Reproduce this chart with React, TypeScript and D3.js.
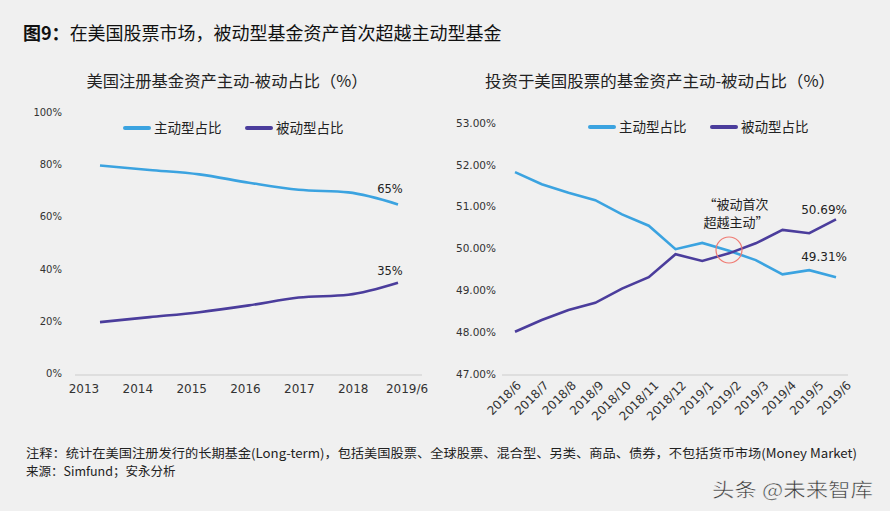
import React from "react";
import * as d3 from "d3";

// left chart: all registered funds
const leftYears = ["2013", "2014", "2015", "2016", "2017", "2018", "2019/6"];
const leftActive = [79.5, 77.8, 76.1, 72.9, 70.2, 69.2, 64.6];
const leftPassive = [19.5, 21.4, 23.3, 25.9, 28.9, 30.0, 34.6];
const leftTicks = [0, 20, 40, 60, 80, 100];

// right chart: US equity funds
const rightMonths = [
  "2018/6", "2018/7", "2018/8", "2018/9", "2018/10", "2018/11", "2018/12",
  "2019/1", "2019/2", "2019/3", "2019/4", "2019/5", "2019/6",
];
const rightActive = [51.82, 51.53, 51.33, 51.15, 50.81, 50.54, 49.98, 50.13, 49.94, 49.72, 49.38, 49.48, 49.31];
const rightPassive = [48.01, 48.29, 48.53, 48.7, 49.04, 49.31, 49.86, 49.7, 49.88, 50.12, 50.44, 50.36, 50.69];
const rightTicks = [47, 48, 49, 50, 51, 52, 53];

const legendNames = ["主动型占比", "被动型占比"];
const BLUE = "#3ba3e0";
const PURPLE = "#4b3d9c";
const CN = "'Noto Sans CJK SC', 'Noto Sans', sans-serif";
const NUM = "'DejaVu Sans', Verdana, sans-serif";

function Legend({ x, y }: { x: number; y: number }) {
  const colors = [BLUE, PURPLE];
  return (
    <g transform={`translate(${x},${y})`}>
      {legendNames.map((name, i) => (
        <g key={name} transform={`translate(${i * 122},0)`}>
          <line x1={0} x2={24} y1={0} y2={0} stroke={colors[i]} strokeWidth={4} strokeLinecap="round" />
          <text x={29} y={5} fontSize={13.5} fontFamily={CN} fill="#222">{name}</text>
        </g>
      ))}
    </g>
  );
}

function LeftChart() {
  // point positions of the lines and of the axis labels differ slightly in the source
  const x = d3.scalePoint<string>().domain(leftYears).range([100, 398]);
  const xLab = d3.scalePoint<string>().domain(leftYears).range([84, 407]);
  const y = d3.scaleLinear().domain([0, 100]).range([373, 112]);
  const line = d3
    .line<number>()
    .x((_, i) => x(leftYears[i]) as number)
    .y((d) => y(d))
    .curve(d3.curveMonotoneX);
  const last = leftYears.length - 1;
  return (
    <g>
      <text x={227} y={87} textAnchor="middle" fontSize={16} fontFamily={CN} fill="#222" textLength={281} lengthAdjust="spacingAndGlyphs">
        美国注册基金资产主动-被动占比（%）
      </text>
      {leftTicks.map((t) => (
        <text key={t} x={62} y={y(t) + 4} textAnchor="end" fontSize={10} fontFamily={NUM} fill="#333">
          {t}%
        </text>
      ))}
      <line x1={75} x2={422} y1={375} y2={375} stroke="#d9d9d9" strokeWidth={1.5} />
      {leftYears.map((c) => (
        <text key={c} x={xLab(c)} y={393} textAnchor="middle" fontSize={12} fontFamily={NUM} fill="#333">
          {c}
        </text>
      ))}
      <path d={line(leftActive) || ""} fill="none" stroke={BLUE} strokeWidth={2.6} />
      <path d={line(leftPassive) || ""} fill="none" stroke={PURPLE} strokeWidth={2.6} />
      <text x={390} y={y(leftActive[last]) - 11} textAnchor="middle" fontSize={11.5} fontFamily={NUM} fill="#222">
        65%
      </text>
      <text x={390} y={y(leftPassive[last]) - 8} textAnchor="middle" fontSize={11.5} fontFamily={NUM} fill="#222">
        35%
      </text>
      <Legend x={125} y={128} />
    </g>
  );
}

function RightChart() {
  const x = d3.scalePoint<string>().domain(rightMonths).range([515, 836]);
  const xLab = d3.scalePoint<string>().domain(rightMonths).range([522, 852]);
  const y = d3.scaleLinear().domain([47, 53]).range([374, 122.7]);
  const line = d3
    .line<number>()
    .x((_, i) => x(rightMonths[i]) as number)
    .y((d) => y(d));
  const last = rightMonths.length - 1;
  const cross = x("2019/2") as number;
  return (
    <g>
      <text x={660} y={87} textAnchor="middle" fontSize={16} fontFamily={CN} fill="#222" textLength={350} lengthAdjust="spacingAndGlyphs">
        投资于美国股票的基金资产主动-被动占比（%）
      </text>
      {rightTicks.map((t) => (
        <text key={t} x={496} y={y(t) + 4} textAnchor="end" fontSize={10.5} fontFamily={NUM} fill="#333">
          {t.toFixed(2)}%
        </text>
      ))}
      <line x1={502} x2={848} y1={375} y2={375} stroke="#d9d9d9" strokeWidth={1.5} />
      {rightMonths.map((c) => (
        <text
          key={c}
          transform={`translate(${xLab(c)},386) rotate(-45)`}
          textAnchor="end"
          fontSize={12}
          fontFamily={NUM}
          fill="#333"
        >
          {c}
        </text>
      ))}
      <path d={line(rightActive) || ""} fill="none" stroke={BLUE} strokeWidth={2.6} />
      <path d={line(rightPassive) || ""} fill="none" stroke={PURPLE} strokeWidth={2.6} />
      <circle cx={cross} cy={250} r={13} fill="none" stroke="#f07a72" strokeWidth={1.2} />
      <text x={736} y={209} textAnchor="middle" fontSize={13} fontFamily={CN} fill="#222">
        “被动首次
      </text>
      <text x={736} y={226.5} textAnchor="middle" fontSize={13} fontFamily={CN} fill="#222">
        超越主动”
      </text>
      <text x={847} y={y(rightPassive[last]) - 5} textAnchor="end" fontSize={12} fontFamily={NUM} fill="#222">
        {rightPassive[last].toFixed(2)}%
      </text>
      <text x={847} y={y(rightActive[last]) - 16} textAnchor="end" fontSize={12} fontFamily={NUM} fill="#222">
        {rightActive[last].toFixed(2)}%
      </text>
      <Legend x={590} y={127} />
    </g>
  );
}

export default function App() {
  return (
    <svg
      width={890}
      height={511}
      style={{ position: "absolute", left: 0, top: 0, display: "block" }}
    >
      <rect width={890} height={511} fill="#f0f0f0" />
      <text x={23} y={40} fontSize={18} fontFamily={CN} fill="#111">
        <tspan fontWeight="bold">图9：</tspan>在美国股票市场，被动型基金资产首次超越主动型基金
      </text>
      <LeftChart />
      <RightChart />
      <text x={26} y={458} fontSize={12.5} fontFamily={CN} fill="#222" textLength={831} lengthAdjust="spacingAndGlyphs">
        注释：统计在美国注册发行的长期基金(Long-term)，包括美国股票、全球股票、混合型、另类、商品、债券，不包括货币市场(Money Market)
      </text>
      <text x={26} y={476} fontSize={12.5} fontFamily={CN} fill="#222">
        来源：Simfund；安永分析
      </text>
      <text x={712} y={497} fontSize={19} fontFamily={CN} fill="#3a3a3a" stroke="#ffffff" strokeWidth={0.4} textLength={161} lengthAdjust="spacingAndGlyphs">
        头条 @未来智库
      </text>
    </svg>
  );
}
